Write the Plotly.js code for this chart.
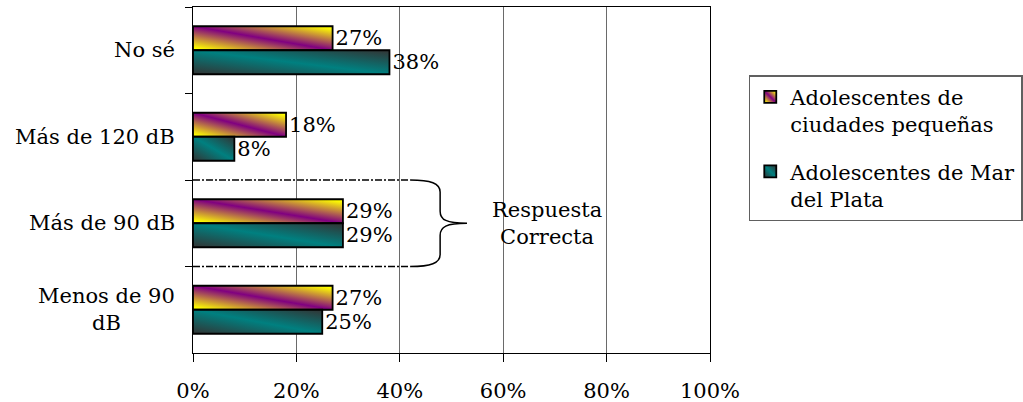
<!DOCTYPE html>
<html>
<head>
<meta charset="utf-8">
<script src="https://cdn.plot.ly/plotly-3.0.1.min.js"></script>
<style>
  html, body { margin: 0; padding: 0; background: #fff; }
  #chart { width: 1023px; height: 402px; }
</style>
</head>
<body>
<!-- Diagonal gradient fills used by the two bar series -->
<svg width="0" height="0" style="position:absolute">
  <defs>
    <linearGradient id="fill-small" x1="0" y1="1" x2="1" y2="0">
      <stop offset="0.05" stop-color="#ffff00"/>
      <stop offset="0.5" stop-color="#800080"/>
      <stop offset="0.95" stop-color="#ffff00"/>
    </linearGradient>
    <linearGradient id="fill-mdp" x1="0" y1="1" x2="1" y2="0">
      <stop offset="0" stop-color="#333333"/>
      <stop offset="0.5" stop-color="#008080"/>
      <stop offset="1" stop-color="#333333"/>
    </linearGradient>
  </defs>
</svg>
<div id="chart"></div>
<script>
// Answer options, top to bottom
const categories = ['No sé', 'Más de 120 dB', 'Más de 90 dB', 'Menos de 90 dB'];
const categoryLabels = ['No sé', 'Más de 120 dB', 'Más de 90 dB', 'Menos de 90<br>dB'];

// Series names and percentages
const seriesNames = ['Adolescentes de<br>ciudades pequeñas', 'Adolescentes de Mar<br>del Plata'];
const smallCities = [27, 18, 29, 27];
const marDelPlata = [38, 8, 29, 25];

// Axis ticks (percent)
const xTicks = [0, 20, 40, 60, 80, 100];
const xTickLabels = ['0%', '20%', '40%', '60%', '80%', '100%'];

// Bracketed answer
const correctCategory = 'Más de 90 dB';
const correctLabel = 'Respuesta<br>Correcta';

const FONT = 'DejaVu Serif, Liberation Serif, serif';
const FS = 21;
const fillIds = ['fill-small', 'fill-mdp'];
const baseColors = ['#b040a0', '#008080'];

const traces = [smallCities, marDelPlata].map((vals, i) => ({
  type: 'bar',
  orientation: 'h',
  name: seriesNames[i],
  legendgroup: 'g' + i,
  y: categories,
  x: vals,
  marker: { color: baseColors[i], line: { color: '#000', width: 1.8 } },
  text: vals.map(v => v + '%'),
  textposition: 'outside',
  textfont: { family: FONT, size: FS, color: '#000' },
  cliponaxis: false,
  hoverinfo: 'skip'
}));

const c = categories.indexOf(correctCategory);
const xBr0 = 42, xBr1 = 47.8, xBr2 = 53;
const bracePath =
  `M ${xBr0},${c - 0.5} C ${xBr0 + 4},${c - 0.5} ${xBr1},${c - 0.46} ${xBr1},${c - 0.36} ` +
  `L ${xBr1},${c - 0.14} C ${xBr1},${c - 0.04} ${xBr1 + 1.2},${c} ${xBr2},${c} ` +
  `M ${xBr2},${c} C ${xBr1 + 1.2},${c} ${xBr1},${c + 0.04} ${xBr1},${c + 0.14} ` +
  `L ${xBr1},${c + 0.36} C ${xBr1},${c + 0.46} ${xBr0 + 4},${c + 0.5} ${xBr0},${c + 0.5}`;

const shapes = [c - 0.5, c + 0.5].map(yb => ({
  type: 'line', xref: 'x', yref: 'y',
  x0: 0, x1: xBr0, y0: yb, y1: yb,
  line: { color: '#000', width: 1.6, dash: '7px,2px,2px,2px' }
}));
shapes.push({
  type: 'path', xref: 'x', yref: 'y', path: bracePath,
  line: { color: '#000', width: 1.5 }
});

const annotations = categories.map((cat, i) => ({
  xref: 'paper', yref: 'y', x: 0, y: cat,
  xanchor: 'right', yanchor: 'middle', xshift: -16,
  text: categoryLabels[i], align: 'center', showarrow: false,
  font: { family: FONT, size: FS, color: '#000' }
}));
annotations.push({
  xref: 'x', yref: 'y', x: 68.4, y: c,
  xanchor: 'center', yanchor: 'middle',
  text: correctLabel, align: 'center', showarrow: false,
  font: { family: FONT, size: FS, color: '#000' }
});

const layout = {
  width: 1023, height: 402,
  margin: { l: 193, r: 313, t: 7, b: 49, autoexpand: false },
  paper_bgcolor: '#fff', plot_bgcolor: '#fff',
  font: { family: FONT, size: FS, color: '#000' },
  barmode: 'group', bargap: 0.445, bargroupgap: 0,
  showlegend: true,
  legend: {
    x: 1.075, y: 0.803, xanchor: 'left', yanchor: 'top',
    bgcolor: '#fff', bordercolor: '#606060', borderwidth: 1.5,
    font: { family: FONT, size: FS, color: '#000' },
    traceorder: 'grouped', tracegroupgap: 17, valign: 'top'
  },
  xaxis: {
    range: [0, 100], tickmode: 'array', tickvals: xTicks, ticktext: xTickLabels,
    showgrid: true, gridcolor: '#6a6a6a', gridwidth: 1,
    zeroline: false, showline: true, linecolor: '#000', linewidth: 1.3, mirror: true,
    ticks: 'outside', ticklen: 8, tickcolor: '#000', tickwidth: 1,
    ticklabelstandoff: 10,
    tickfont: { family: FONT, size: FS, color: '#000' }
  },
  yaxis: {
    type: 'category', categoryorder: 'array', categoryarray: categories,
    autorange: 'reversed', showticklabels: false, showgrid: false,
    zeroline: false, showline: true, linecolor: '#000', linewidth: 1.3, mirror: true,
    ticks: 'outside', ticklen: 7, tickcolor: '#000', tickwidth: 1, tickson: 'boundaries'
  },
  shapes: shapes,
  annotations: annotations
};

function applyFills() {
  document.querySelectorAll('.barlayer .trace').forEach(g => {
    const d = g.__data__;
    const idx = d && d[0] && d[0].trace ? d[0].trace.index : null;
    if (idx === null) return;
    g.querySelectorAll('path').forEach(p => { p.style.fill = `url(#${fillIds[idx]})`; });
  });
  document.querySelectorAll('.legend .traces').forEach(g => {
    const d = g.__data__;
    const idx = d && d[0] && d[0].trace ? d[0].trace.index : null;
    if (idx === null) return;
    g.querySelectorAll('.legendpoints path').forEach(p => { p.style.fill = `url(#${fillIds[idx]})`; });
  });
}

const gd = document.getElementById('chart');
Plotly.newPlot(gd, traces, layout, { staticPlot: true, displayModeBar: false }).then(() => {
  applyFills();
  gd.on('plotly_afterplot', applyFills);
});
</script>
</body>
</html>
